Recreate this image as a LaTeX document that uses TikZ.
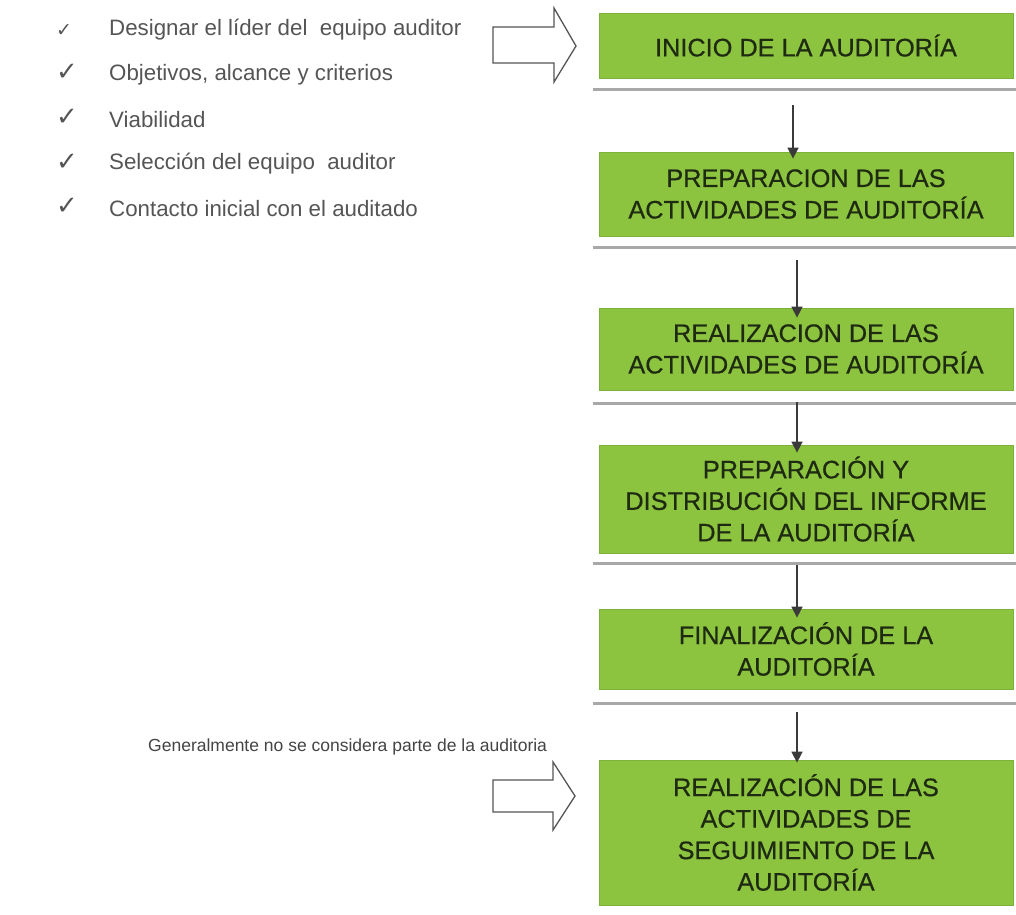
\documentclass[tikz,border=0pt]{standalone}
\usepackage{fontspec}
\setmainfont{Liberation Sans}
\newfontfamily\symfont{DejaVu Sans}
\newfontfamily\stagefont[FakeBold=0.6]{Liberation Sans}
\usetikzlibrary{arrows.meta}
\definecolor{boxgreen}{HTML}{8CC43F}
\definecolor{boxedge}{HTML}{7DB23A}
\definecolor{boxtext}{HTML}{1E2A12}
\definecolor{listgray}{HTML}{555555}
\definecolor{rulegray}{HTML}{A8A8A8}
\definecolor{arrowgray}{HTML}{3A3A3A}
\tikzset{
  stage/.style={fill=boxgreen, draw=boxedge, line width=0.8pt, rectangle,
    minimum width=414pt, align=center, text=boxtext,
    font=\stagefont\fontsize{25.3}{31.5}\selectfont, inner sep=0pt},
  shadowrule/.style={draw=rulegray, line width=3pt},
  flow/.style={draw=arrowgray, line width=1.6pt,
    -{Triangle[width=11pt,length=11pt]}},
  item/.style={anchor=west, text=listgray, font=\fontsize{22.3}{26}\selectfont, inner sep=0pt},
  tick/.style={anchor=center, text=listgray, inner sep=0pt},
  hollow/.style={draw=listgray, line width=1.3pt, fill=white, line join=miter},
  note/.style={anchor=west, text=listgray!80!black, font=\fontsize{17.5}{21}\selectfont, inner sep=0pt}
}
\begin{document}
\begin{tikzpicture}[x=1pt,y=-1pt]
\useasboundingbox[fill=white] (0,0) rectangle (1016,914);

% process stages
\node[stage, minimum height=65pt]  (s1) at (806,45.5) {INICIO DE LA AUDITORÍA};
\node[stage, minimum height=84pt]  (s2) at (806,194) {PREPARACION DE LAS\\ACTIVIDADES DE AUDITORÍA};
\node[stage, minimum height=82pt]  (s3) at (806,349) {REALIZACION DE LAS\\ACTIVIDADES DE AUDITORÍA};
\node[stage, minimum height=108pt] (s4) at (806,499) {PREPARACIÓN Y\\DISTRIBUCIÓN DEL INFORME\\DE LA AUDITORÍA};
\node[stage, minimum height=80pt]  (s5) at (806,649) {FINALIZACIÓN DE LA\\AUDITORÍA};
\node[stage, minimum height=145pt] (s6) at (806,832.5) {REALIZACIÓN DE LAS\\ACTIVIDADES DE\\SEGUIMIENTO DE LA\\AUDITORÍA};

% grey rules under each stage
\foreach \s/\y in {s1/89, s2/247, s3/403, s4/563, s5/703}{
  \draw[shadowrule] (593,\y) -- (1016,\y);
}

% connectors between stages
\draw[flow] ([xshift=-13pt,yshift=-27pt]s1.south) -- ([xshift=-13pt,yshift=-7pt]s2.north);
\draw[flow] ([xshift=-9pt,yshift=-24pt]s2.south) -- ([xshift=-9pt,yshift=-10pt]s3.north);
\draw[flow] ([xshift=-9pt,yshift=-12pt]s3.south) -- ([xshift=-9pt,yshift=-8pt]s4.north);
\draw[flow] ([xshift=-9pt,yshift=-12pt]s4.south) -- ([xshift=-9pt,yshift=-9pt]s5.north);
\draw[flow] ([xshift=-9pt,yshift=-23pt]s5.south) -- ([xshift=-9pt,yshift=-3pt]s6.north);

% hollow block arrows
\draw[hollow] (493,27) -- (554,27) -- (554,8) -- (576,46) -- (554,82) -- (554,63) -- (493,63) -- cycle;
\draw[hollow] (493,780) -- (553,780) -- (553,762) -- (575,796) -- (553,830) -- (553,812) -- (493,812) -- cycle;

% checklist
\foreach \y/\t [count=\i] in {
  30/{Designar el líder del\ \ equipo auditor},
  75/{Objetivos, alcance y criterios},
  120/{Viabilidad},
  164/{Selección del equipo\ \ auditor},
  209/{Contacto inicial con el auditado}}{
  \node[item] (t\i) at (109,\y) {\t};
}
\node[tick, font=\symfont\fontsize{19}{22}\selectfont] (c1) at (64,31) {✓};
\foreach \i/\y in {2/72, 3/117, 4/162, 5/206}{
  \node[tick, font=\symfont\fontsize{26}{30}\selectfont] (c\i) at (67,\y) {✓};
}

\node[note] (n1) at (148,747) {Generalmente no se considera parte de la auditoria};
\end{tikzpicture}
\end{document}
